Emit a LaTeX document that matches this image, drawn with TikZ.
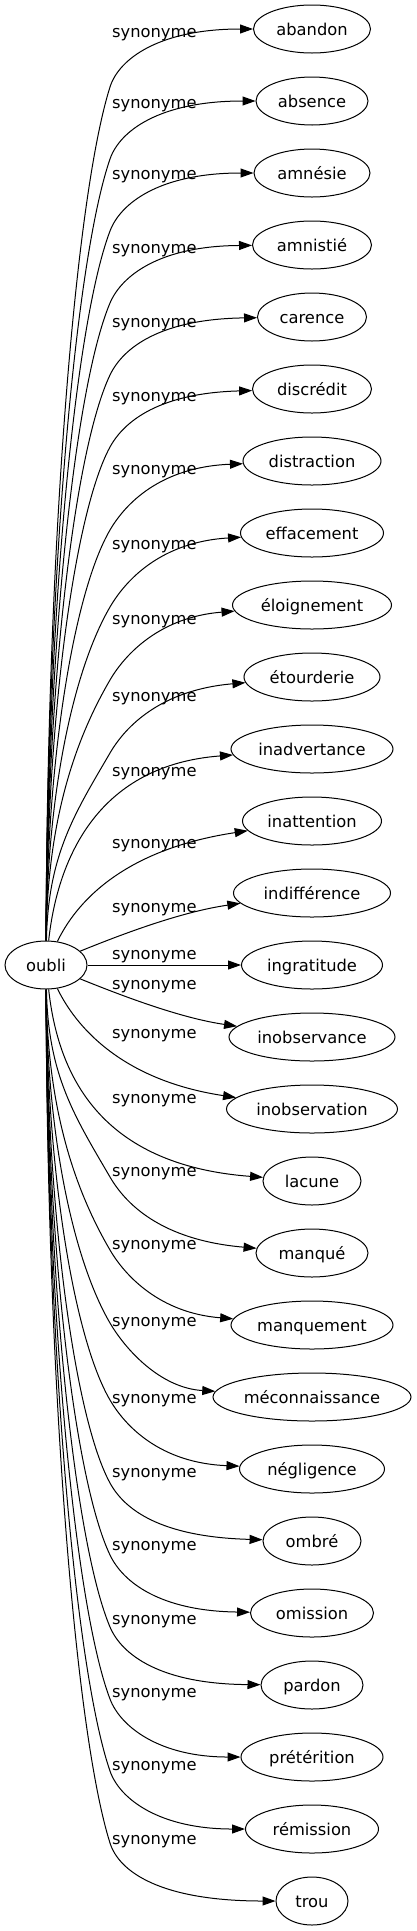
\documentclass[tikz,border=0pt]{standalone}
\usepackage{fontspec}
\setmainfont{DejaVu Sans}
\usetikzlibrary{arrows.meta,shapes.geometric}
\begin{document}
\begin{tikzpicture}[x=1pt,y=-1pt,
  syn/.style={draw, ellipse, line width=1pt, inner sep=0pt, minimum height=48pt,
    font=\fontsize{16.3pt}{19pt}\selectfont, text height=12pt, text depth=0pt},
  root/.style={syn, minimum width=82pt},
  lab/.style={anchor=base west, inner sep=0pt, font=\fontsize{16.3pt}{19pt}\selectfont},
  edge/.style={line width=1pt, -{Triangle[length=13pt,width=9pt]}}]
\useasboundingbox (0,0) rectangle (416,1931);
\node[root] (oubli) at (46,965) {oubli};
\foreach \i/\txt/\ww in {0/abandon/117, 1/absence/112, 2/amnésie/116, 3/amnistié/119,
  4/carence/109, 5/discrédit/119, 6/distraction/138, 7/effacement/143,
  8/éloignement/159, 9/étourderie/136, 10/inadvertance/162, 11/inattention/139,
  12/indifférence/157, 13/ingratitude/141, 14/inobservance/166, 15/inobservation/171,
  16/lacune/98, 17/manqué/112, 18/manquement/162, 19/méconnaissance/198,
  20/négligence/145, 21/ombré/98, 22/omission/123, 23/pardon/102,
  24/prétérition/142, 25/rémission/133, 26/trou/72}
  \node[syn, minimum width=\ww pt] (n\i) at (312,{29+72*\i}) {\txt};
\foreach \j/\yy in {0/31, 1/102, 2/173, 3/247, 4/321, 5/395, 6/468, 7/543, 8/618,
  9/695, 10/770, 11/842, 12/906, 13/953, 14/983, 15/1032, 16/1097, 17/1170,
  18/1243, 19/1320, 20/1397, 21/1471, 22/1544, 23/1618, 24/1691, 25/1764, 26/1838}
  \node[lab] (l\j) at (112,{\yy+6}) {synonyme};
% upper edges
\draw[edge] (oubli) .. controls (47,548) and (75,198) .. (110,87) .. controls (119,58.4) and (160,29) .. (n0);
\draw[edge] (oubli) .. controls (47,581) and (75,260.7) .. (110,159) .. controls (119.8,130.6) and (160,101) .. (n1);
\draw[edge] (oubli) .. controls (47,614.4) and (75,323.3) .. (110,231) .. controls (120.6,202.9) and (160,173) .. (n2);
\draw[edge] (oubli) .. controls (47,647.5) and (75,385.9) .. (110,303) .. controls (121.7,275.4) and (160,246) .. (n3);
\draw[edge] (oubli) .. controls (47,680.6) and (75,448.6) .. (110,375) .. controls (122.9,347.9) and (160,319) .. (n4);
\draw[edge] (oubli) .. controls (47,713.8) and (75,511.2) .. (110,447) .. controls (124.4,420.7) and (160,393) .. (n5);
\draw[edge] (oubli) .. controls (47,752) and (75,590) .. (110,530) .. controls (125.1,504.1) and (160,467) .. (n6);
\draw[edge] (oubli) .. controls (47,787.4) and (75,667) .. (110,607) .. controls (125.1,581.1) and (160,542) .. (n7);
\draw[edge] (oubli) .. controls (47,821) and (75,740) .. (110,680) .. controls (125.1,654.1) and (160,617) .. (n8);
\draw[edge] (oubli) .. controls (48,854.5) and (75,813) .. (110,753) .. controls (125.1,727.1) and (160,690) .. (n9);
\draw[edge] (oubli) .. controls (58,855) and (100,765) .. (n10);
\draw[edge] (oubli) .. controls (75,905) and (120,850) .. (n11);
\draw[edge] (oubli) .. controls (120,935) and (180,912) .. (n12);
\draw[edge] (oubli) -- (n13);
% lower edges
\draw[edge] (oubli) .. controls (120,995) and (180,1018) .. (n14);
\draw[edge] (oubli) .. controls (75,1025) and (120,1080) .. (n15);
\draw[edge] (oubli) .. controls (58,1075) and (100,1165) .. (n16);
\draw[edge] (oubli) .. controls (48,1075.5) and (75,1117) .. (110,1177) .. controls (125.1,1202.9) and (160,1240) .. (n17);
\draw[edge] (oubli) .. controls (47,1109) and (75,1190) .. (110,1250) .. controls (125.1,1275.9) and (160,1313) .. (n18);
\draw[edge] (oubli) .. controls (47,1142.6) and (75,1263) .. (110,1323) .. controls (125.1,1348.9) and (160,1388) .. (n19);
\draw[edge] (oubli) .. controls (47,1178) and (75,1340) .. (110,1400) .. controls (125.1,1425.9) and (160,1463) .. (n20);
\draw[edge] (oubli) .. controls (47,1216.2) and (75,1418.8) .. (110,1483) .. controls (124.4,1509.3) and (160,1537) .. (n21);
\draw[edge] (oubli) .. controls (47,1249.4) and (75,1481.4) .. (110,1555) .. controls (122.9,1582.1) and (160,1611) .. (n22);
\draw[edge] (oubli) .. controls (47,1282.5) and (75,1544.1) .. (110,1627) .. controls (121.7,1654.6) and (160,1684) .. (n23);
\draw[edge] (oubli) .. controls (47,1315.6) and (75,1606.7) .. (110,1699) .. controls (120.6,1727.1) and (160,1757) .. (n24);
\draw[edge] (oubli) .. controls (47,1349) and (75,1669.3) .. (110,1771) .. controls (119.8,1799.4) and (160,1829) .. (n25);
\draw[edge] (oubli) .. controls (47,1382) and (75,1732) .. (110,1843) .. controls (119,1871.6) and (160,1901) .. (n26);
\end{tikzpicture}
\end{document}
